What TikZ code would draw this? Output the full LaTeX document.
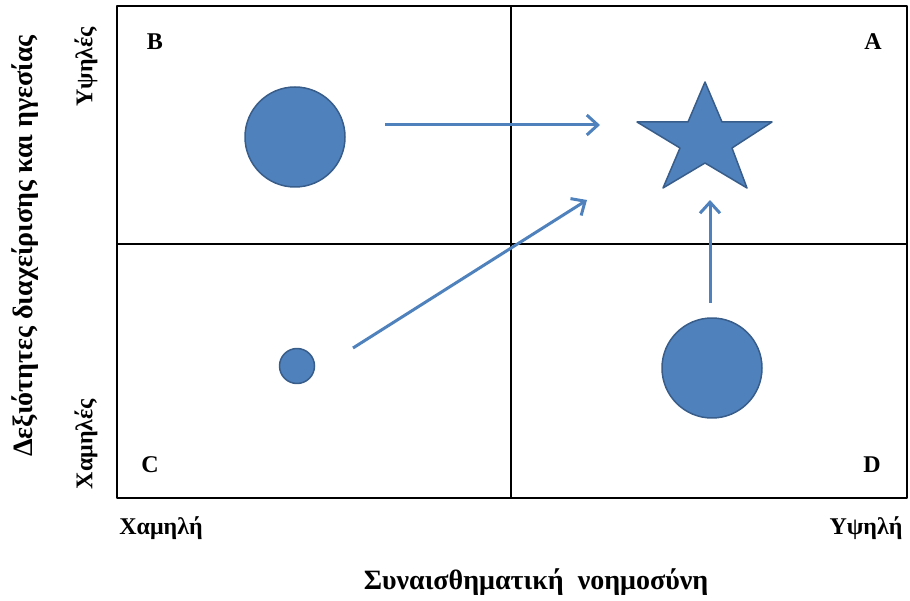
\documentclass[tikz,border=0pt]{standalone}
\usepackage{fontspec}
\setmainfont{Liberation Serif}
\usetikzlibrary{arrows.meta,positioning}
\definecolor{qblue}{RGB}{79,129,189}
\definecolor{qedge}{RGB}{56,93,138}
\tikzset{
	blob/.style={circle, fill=qblue, draw=qedge, line width=1.5pt, inner sep=0pt, minimum size=#1},
	move/.style={qblue, line width=3pt, -{Straight Barb[length=11pt,width=20pt]}},
	corner/.style={font=\bfseries\fontsize{24}{26}\selectfont},
	scale label/.style={font=\bfseries\fontsize{24}{26}\selectfont},
	axis title/.style={font=\bfseries\fontsize{28}{32}\selectfont},
}
\begin{document}
\begin{tikzpicture}[x=1pt, y=-1pt, line join=round]
	\useasboundingbox (0,0) rectangle (910,601);
	% frame and quadrants
	\path (117,6) coordinate (NW) (907,498) coordinate (SE)
	(511,6) coordinate (top) (511,498) coordinate (bottom)
	(117,244) coordinate (left) (907,244) coordinate (right);
	\draw [line width=1.3pt] (NW) rectangle (SE) (top)--(bottom) (left)--(right);
	\foreach \q/\p in {B/{155,42},A/{873,42},C/{150,465},D/{872,465}}{
		\node [corner] (q\q) at (\p) {\q};
	}
	% shapes
	\node [blob=100pt] (lead) at (295,137) {};
	\node [blob=35pt] (seed) at (297,366) {};
	\node [blob=100pt] (emo) at (712,368) {};
	\draw [fill=qblue, draw=qedge, line width=1.5pt]
	(705,82)--(722,122)--(772,122)--(732,148)--(747,188)--(705,163)
	--(663,188)--(680,148)--(637,122)--(688,122)--cycle;
	\coordinate (goal) at (705,135);
	% moves
	\path (385,125) coordinate (m1) (600,125) coordinate (m1')
	(353,348) coordinate (m2) (587,200) coordinate (m2')
	(710,303) coordinate (m3) (710,200) coordinate (m3');
	\foreach \m in {m1,m2,m3}{
		\draw [move] (\m)--(\m');
	}
	% scales
	\node [scale label, rotate=90] (yhigh) at (86,67) {Υψηλές};
	\node [scale label, rotate=90] (ylow) at (86,444) {Χαμηλές};
	\node [axis title, rotate=90] (ytitle) at (25,246) {Δεξιότητες διαχείρισης και ηγεσίας};
	\node [scale label] (xlow) at (161,528) {Χαμηλή};
	\node [scale label] (xhigh) at (866,528) {Υψηλή};
	\node [axis title] (xtitle) at (536,582) {Συναισθηματική \ νοημοσύνη};
\end{tikzpicture}
\end{document}
